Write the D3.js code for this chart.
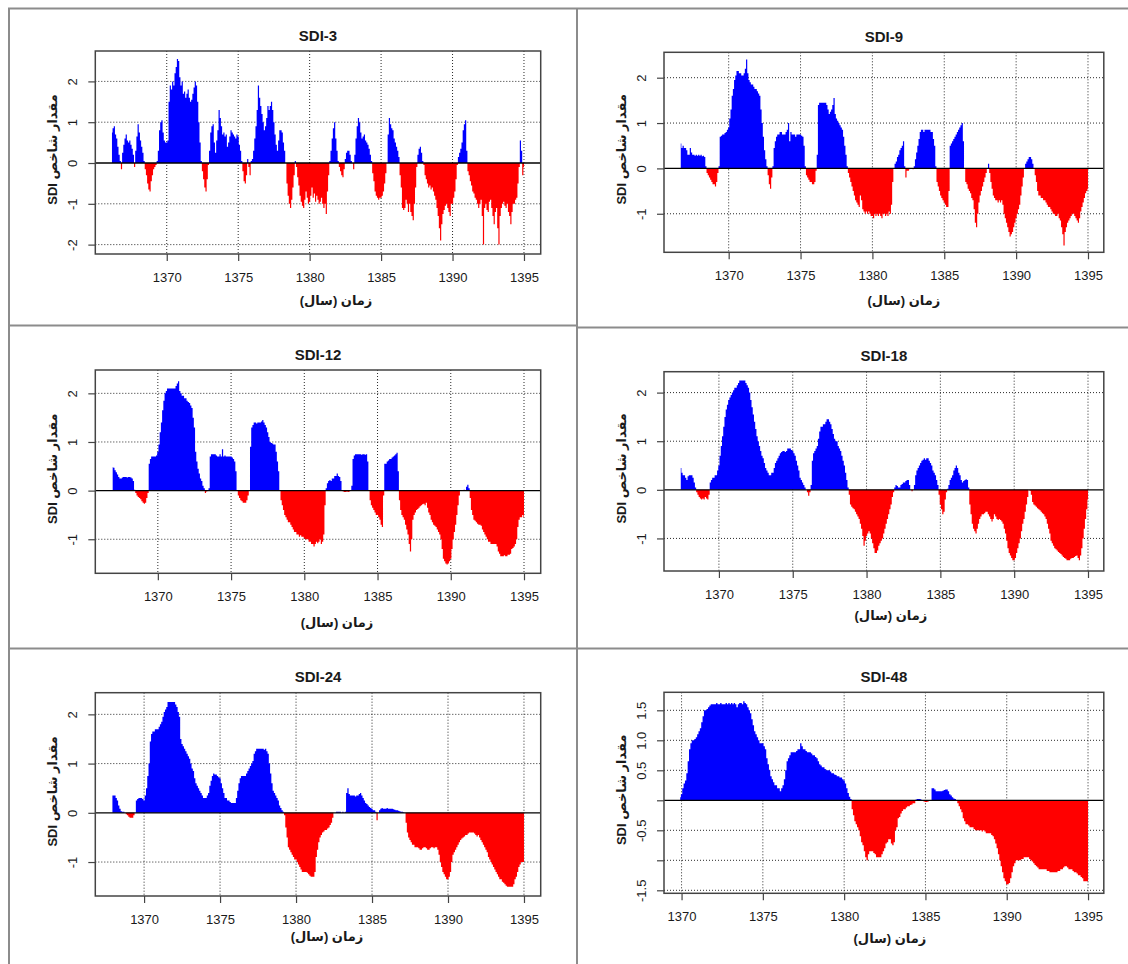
<!DOCTYPE html>
<html>
<head>
<meta charset="utf-8">
<script src="https://cdn.jsdelivr.net/npm/d3@7"></script>
<style>
  body { margin: 0; background: #fff; }
  svg text { font-family: "Liberation Sans", Arial, "DejaVu Sans", sans-serif; fill: #1a1a1a; }
</style>
</head>
<body>
<svg id="chart" width="1128" height="964"></svg>
<script>
// ---- data ----
const titles = ["SDI-3", "SDI-9", "SDI-12", "SDI-18", "SDI-24", "SDI-48"];
const windows = [3, 9, 12, 18, 24, 48];          // months; series k starts at month k-1 of 1366
const xTicks = [1370, 1375, 1380, 1385, 1390, 1395];
const yTicks = [
  [-2, -1, 0, 1, 2],
  [-1, 0, 1, 2],
  [-1, 0, 1, 2],
  [-1, 0, 1, 2],
  [-1, 0, 1, 2],
  [-1.5, -1, -0.5, 0, 0.5, 1, 1.5]
];
const yTickLabels = [
  ["-2", "-1", "0", "1", "2"],
  ["-1", "0", "1", "2"],
  ["-1", "0", "1", "2"],
  ["-1", "0", "1", "2"],
  ["-1", "0", "1", "2"],
  ["-1.5", "", "-0.5", "", "0.5", "1.0", "1.5"]
];
const xLabel = "زمان (سال)";
const yLabel = "مقدار شاخص SDI";

// monthly values, one row per year
const sdi3 = [
  0.75, 0.85, 0.9, 0.7, 0.6, 0.4, 0.2, 0.05, -0.15, 0.25,
  0.45, 0.6, 0.7, 0.55, 0.5, 0.55, 0.45, 0.35, 0.2, -0.1, 0.3, 0.65,
  0.95, 0.75, 0.55, 0.4, 0.25, 0.05, -0.15, -0.3, -0.5, -0.65, -0.7, -0.45,
  -0.3, -0.15, -0.1, -0.05, 0.05, 0.3, 0.8, 1.0, 1.05, 0.75, 0.55, 0.5,
  0.5, 0.55, 1.5, 1.9, 1.8, 2.0, 1.9, 2.2, 2.35, 2.55, 2.5, 2.1,
  1.9, 2.0, 1.7, 1.75, 1.6, 1.7, 1.8, 1.6, 1.5, 1.55, 1.7, 1.85,
  2.0, 1.9, 1.5, 1.0, 0.5, 0.05, -0.2, -0.4, -0.6, -0.7, -0.4, -0.05,
  0.3, 0.75, 0.9, 0.95, 0.5, 0.25, 0.55, 0.8, 1.3, 1.1, 0.9, 0.7,
  0.75, 0.65, 0.7, 0.4, 0.5, 0.65, 0.8, 0.75, 0.7, 0.65, 0.6, 0.7,
  0.65, 0.45, 0.3, 0.05, -0.2, -0.45, -0.5, -0.3, 0.1, -0.1, -0.3, 0.05,
  0.1, 0.3, 0.6, 0.9, 1.3, 1.9, 1.6, 1.4, 1.2, 1.0, 0.8, 0.9,
  1.1, 1.4, 1.3, 1.4, 1.5, 1.3, 1.0, 0.7, 0.45, 0.3, 0.55, 0.8,
  0.8, 0.75, 0.5, 0.3, 0.0, -0.5, -0.8, -1.0, -1.1, -0.9, -0.6, -0.3,
  0.05, -0.1, -0.35, -0.55, -0.8, -0.95, -1.05, -1.1, -0.9, -0.7, -0.85, -1.0,
  -0.95, -0.8, -0.6, -0.85, -0.75, -0.95, -0.8, -0.9, -1.0, -0.95, -0.85, -1.0,
  -1.1, -1.0, -1.25, -0.7, -0.3, 0.05, 0.3, 0.6, 0.85, 1.0, 0.6, 0.3,
  0.05, -0.1, -0.2, -0.3, -0.35, -0.15, 0.1, 0.25, 0.3, 0.3, 0.2, 0.05,
  0.0, -0.15, 0.2, 0.6, 0.9, 1.1, 1.0, 0.75, 0.6, 0.65, 0.7, 0.55,
  0.5, 0.45, 0.35, 0.2, 0.05, -0.25, -0.45, -0.7, -0.8, -0.85, -0.9, -0.85,
  -0.85, -0.8, -0.7, -0.5, -0.25, 0.0, 0.7, 1.1, 0.95, 0.85, 0.8, 0.6,
  0.5, 0.4, 0.3, 0.15, -0.3, -0.6, -1.1, -1.15, -1.1, -0.9, -1.0, -1.2,
  -1.0, -1.2, -1.3, -1.4, -1.0, -0.6, -0.1, 0.2, 0.35, 0.4, 0.25, 0.05,
  -0.05, -0.3, -0.4, -0.5, -0.6, -0.55, -0.65, -0.6, -0.7, -0.8, -0.9, -1.1,
  -1.3, -1.6, -1.9, -1.5, -1.25, -1.15, -1.05, -1.0, -1.1, -1.2, -1.3, -1.0,
  -1.0, -0.85, -0.7, -0.4, -0.05, 0.15, 0.25, 0.35, 0.5, 0.8, 0.95, 1.05,
  0.3, -0.2, -0.3, -0.45, -0.55, -0.7, -0.75, -0.85, -0.9, -1.0, -1.1, -1.0,
  -0.9, -1.3, -2.0, -1.1, -1.0, -1.15, -1.2, -0.95, -0.9, -1.1, -1.3, -1.5,
  -1.2, -1.1, -1.6, -2.0, -1.3, -1.1, -1.0, -0.95, -1.05, -1.1, -1.0, -1.2,
  -1.3, -1.5, -1.2, -1.0, -1.0, -0.9, -0.85, -0.5, -0.1, 0.55, 0.3, -0.3,
  -0.1
];

const sdi9 = [
  0.55, 0.45, 0.5, 0.45,
  0.45, 0.4, 0.3, 0.3, 0.45, 0.35, 0.3, 0.3, 0.28, 0.3, 0.28, 0.3,
  0.28, 0.3, 0.27, 0.28, 0.25, 0.05, -0.1, -0.15, -0.2, -0.25, -0.3, -0.35,
  -0.35, -0.4, -0.3, -0.1, 0.05, 0.7, 0.72, 0.75, 0.75, 0.78, 0.8, 0.85,
  0.9, 1.1, 1.3, 1.6, 1.75, 1.95, 2.05, 2.15, 2.15, 2.1, 2.1, 2.05,
  2.05, 2.1, 2.2, 2.4, 2.1, 1.95, 1.9, 1.85, 1.85, 1.8, 1.75, 1.75,
  1.7, 1.65, 1.6, 1.3, 1.0, 0.7, 0.4, 0.2, 0.05, -0.15, -0.35, -0.45,
  -0.2, 0.05, 0.45, 0.6, 0.7, 0.75, 0.75, 0.8, 0.8, 0.75, 0.75, 0.75,
  0.8, 0.85, 1.0, 0.6, 0.8, 0.75, 0.75, 0.75, 0.7, 0.75, 0.75, 0.75,
  0.75, 0.72, 0.7, 0.5, 0.05, -0.15, -0.2, -0.25, -0.3, -0.3, -0.35, -0.35,
  -0.3, -0.05, 0.3, 1.4, 1.45, 1.45, 1.45, 1.45, 1.45, 1.45, 1.4, 1.3,
  1.2, 1.25, 1.3, 1.4, 1.55, 1.2, 1.1, 1.05, 1.0, 0.95, 0.9, 0.85,
  0.7, 0.5, 0.3, 0.05, -0.1, -0.2, -0.3, -0.4, -0.5, -0.6, -0.7, -0.75,
  -0.8, -0.85, -0.6, -0.7, -0.9, -0.95, -1.0, -0.95, -1.0, -0.95, -1.0, -1.05,
  -1.05, -1.1, -1.0, -1.05, -1.0, -1.05, -1.0, -1.05, -1.1, -1.0, -1.0, -1.05,
  -1.0, -1.05, -0.95, -1.0, -0.8, -0.3, 0.0, 0.1, 0.15, 0.25, 0.3, 0.4,
  0.45, 0.5, 0.6, 0.05, -0.2, -0.05, -0.05, -0.02, 0.0, 0.0, -0.02, 0.05,
  0.2, 0.35, 0.5, 0.65, 0.8, 0.85, 0.85, 0.8, 0.85, 0.85, 0.85, 0.85,
  0.85, 0.8, 0.8, 0.65, 0.5, 0.05, -0.3, -0.4, -0.5, -0.6, -0.65, -0.7,
  -0.75, -0.8, -0.85, -0.85, -0.5, 0.5, 0.55, 0.6, 0.65, 0.7, 0.75, 0.8,
  0.85, 0.9, 0.95, 1.0, 0.6, 0.0, -0.3, -0.35, -0.45, -0.5, -0.55, -0.65,
  -0.7, -0.9, -1.2, -1.3, -1.0, -0.75, -0.6, -0.5, -0.4, -0.3, -0.2, -0.1,
  0.0, 0.1, -0.1, -0.3, -0.45, -0.6, -0.65, -0.7, -0.7, -0.75, -0.7, -0.75,
  -0.7, -0.8, -1.0, -1.1, -1.2, -1.3, -1.4, -1.5, -1.45, -1.4, -1.3, -1.2,
  -1.1, -1.0, -0.9, -0.8, -0.6, -0.4, -0.2, 0.0, 0.1, 0.15, 0.2, 0.25,
  0.25, 0.2, 0.1, 0.0, -0.15, -0.3, -0.5, -0.6, -0.6, -0.65, -0.65, -0.7,
  -0.7, -0.75, -0.8, -0.85, -0.85, -0.9, -0.95, -1.0, -1.0, -1.05, -1.05, -1.0,
  -1.1, -1.15, -1.3, -1.45, -1.7, -1.4, -1.3, -1.2, -1.15, -1.1, -1.05, -1.0,
  -1.0, -1.05, -1.1, -1.15, -1.2, -1.1, -0.95, -0.85, -0.75, -0.65, -0.55, -0.5,
  -0.45
];

const sdi12 = [
  0.48,
  0.47, 0.42, 0.38, 0.33, 0.28, 0.25, 0.25, 0.27, 0.28, 0.28, 0.28, 0.27,
  0.28, 0.28, 0.27, 0.25, 0.2, 0.02, -0.05, -0.1, -0.13, -0.15, -0.18, -0.22,
  -0.25, -0.27, -0.25, -0.15, -0.05, 0.55, 0.65, 0.7, 0.7, 0.7, 0.7, 0.72,
  0.8, 0.95, 1.2, 1.4, 1.65, 1.85, 2.0, 2.05, 2.1, 2.1, 2.1, 2.1,
  2.1, 2.1, 2.1, 2.15, 2.2, 2.25, 2.05, 2.0, 1.95, 1.95, 1.9, 1.9,
  1.85, 1.82, 1.8, 1.75, 1.7, 1.5, 1.3, 0.8, 0.6, 0.45, 0.35, 0.25,
  0.2, 0.1, 0.05, -0.05, -0.02, 0.0, 0.05, 0.7, 0.75, 0.75, 0.75, 0.75,
  0.72, 0.7, 0.7, 0.75, 0.7, 0.85, 0.7, 0.72, 0.7, 0.7, 0.7, 0.7,
  0.7, 0.68, 0.65, 0.6, 0.4, 0.0, -0.1, -0.15, -0.2, -0.22, -0.25, -0.25,
  -0.25, -0.2, -0.1, 0.0, 0.9, 1.3, 1.35, 1.4, 1.4, 1.38, 1.4, 1.4,
  1.4, 1.42, 1.45, 1.4, 1.35, 1.3, 1.2, 1.1, 1.0, 0.98, 0.97, 0.95,
  0.95, 0.8, 0.6, 0.4, 0.0, -0.2, -0.3, -0.4, -0.5, -0.55, -0.6, -0.65,
  -0.65, -0.7, -0.75, -0.8, -0.85, -0.85, -0.9, -0.9, -0.95, -0.92, -0.95, -0.95,
  -0.98, -1.0, -1.0, -1.0, -1.05, -1.05, -1.1, -1.1, -1.15, -1.1, -1.05, -1.08,
  -1.05, -1.0, -1.1, -1.05, -0.9, -0.3, 0.05, 0.15, 0.2, 0.22, 0.2, 0.25,
  0.25, 0.3, 0.3, 0.35, 0.3, 0.28, 0.2, 0.0, -0.02, -0.03, -0.03, -0.02,
  -0.03, -0.02, 0.0, 0.1, 0.65, 0.72, 0.75, 0.75, 0.75, 0.75, 0.75, 0.74,
  0.75, 0.75, 0.74, 0.75, 0.6, 0.0, -0.2, -0.3, -0.35, -0.4, -0.45, -0.5,
  -0.5, -0.55, -0.6, -0.7, -0.75, -0.1, 0.55, 0.55, 0.6, 0.62, 0.65, 0.65,
  0.68, 0.7, 0.72, 0.75, 0.78, 0.4, -0.2, -0.4, -0.5, -0.55, -0.6, -0.7,
  -0.8, -0.9, -1.1, -1.25, -1.0, -0.6, -0.5, -0.45, -0.4, -0.38, -0.35, -0.32,
  -0.3, -0.28, -0.27, -0.3, -0.25, -0.35, -0.45, -0.5, -0.6, -0.65, -0.7, -0.72,
  -0.75, -0.8, -0.85, -0.9, -1.0, -1.2, -1.4, -1.45, -1.5, -1.52, -1.5, -1.45,
  -1.4, -1.2, -1.0, -0.85, -0.7, -0.5, -0.3, -0.1, 0.0, 0.0, 0.0, 0.02,
  0.0, 0.08, 0.12, 0.05, -0.15, -0.4, -0.5, -0.6, -0.62, -0.65, -0.68, -0.7,
  -0.7, -0.72, -0.8, -0.85, -0.9, -0.95, -1.0, -1.05, -1.05, -1.1, -1.1, -1.1,
  -1.1, -1.1, -1.15, -1.25, -1.3, -1.35, -1.35, -1.35, -1.33, -1.35, -1.35, -1.32,
  -1.32, -1.3, -1.2, -1.18, -1.15, -1.1, -1.0, -0.75, -0.6, -0.55, -0.55, -0.5,
  -0.55
];

const sdi18 = [
  0.45, 0.35, 0.3, 0.3, 0.25, 0.2, 0.28,
  0.3, 0.3, 0.3, 0.25, 0.15, 0.05, -0.05, -0.1, -0.15, -0.18, -0.2, -0.18,
  -0.2, -0.15, -0.18, -0.2, -0.1, 0.15, 0.2, 0.25, 0.25, 0.3, 0.3, 0.4,
  0.5, 0.7, 0.9, 1.1, 1.3, 1.5, 1.65, 1.75, 1.85, 1.9, 1.95, 2.0,
  2.05, 2.1, 2.1, 2.15, 2.2, 2.25, 2.25, 2.25, 2.25, 2.25, 2.2, 2.15,
  2.1, 2.0, 1.85, 1.7, 1.55, 1.4, 1.25, 1.1, 1.0, 0.9, 0.8, 0.7,
  0.65, 0.55, 0.45, 0.4, 0.35, 0.3, 0.3, 0.35, 0.35, 0.45, 0.55, 0.6,
  0.65, 0.7, 0.75, 0.78, 0.8, 0.8, 0.78, 0.8, 0.85, 0.85, 0.85, 0.82,
  0.8, 0.75, 0.7, 0.6, 0.5, 0.4, 0.25, 0.2, 0.15, 0.1, 0.05, 0.0,
  -0.05, -0.12, -0.05, 0.1, 0.6, 0.75, 0.8, 0.85, 0.9, 1.05, 1.2, 1.3,
  1.3, 1.35, 1.35, 1.4, 1.45, 1.45, 1.4, 1.35, 1.25, 1.15, 1.05, 1.0,
  1.0, 0.9, 0.85, 0.8, 0.7, 0.6, 0.5, 0.35, 0.2, 0.05, -0.1, -0.3,
  -0.35, -0.38, -0.4, -0.45, -0.5, -0.55, -0.6, -0.7, -0.8, -0.95, -1.15, -1.05,
  -0.95, -0.9, -0.85, -0.9, -1.0, -1.1, -1.2, -1.3, -1.3, -1.25, -1.15, -1.1,
  -1.05, -1.0, -0.9, -0.8, -0.7, -0.6, -0.5, -0.4, -0.3, -0.15, -0.05, 0.05,
  0.1, 0.08, 0.05, 0.05, 0.1, 0.12, 0.15, 0.15, 0.18, 0.2, 0.2, 0.1,
  0.0, -0.03, 0.0, 0.1, 0.3, 0.4, 0.45, 0.5, 0.55, 0.6, 0.62, 0.65,
  0.62, 0.65, 0.65, 0.6, 0.55, 0.5, 0.4, 0.35, 0.3, 0.2, 0.1, -0.1,
  -0.3, -0.4, -0.5, -0.45, -0.2, -0.05, 0.02, 0.1, 0.2, 0.25, 0.3, 0.4,
  0.45, 0.5, 0.45, 0.35, 0.3, 0.2, 0.15, 0.18, 0.2, 0.22, 0.2, 0.05,
  -0.3, -0.5, -0.7, -0.8, -0.85, -0.9, -0.8, -0.7, -0.6, -0.55, -0.5, -0.5,
  -0.48, -0.45, -0.45, -0.5, -0.55, -0.6, -0.65, -0.6, -0.5, -0.55, -0.6, -0.62,
  -0.6, -0.62, -0.65, -0.7, -0.8, -0.9, -1.05, -1.2, -1.3, -1.35, -1.4, -1.45,
  -1.45, -1.4, -1.3, -1.2, -1.1, -1.0, -0.85, -0.7, -0.6, -0.45, -0.3, -0.15,
  0.0, -0.02, -0.1, -0.25, -0.3, -0.32, -0.35, -0.38, -0.4, -0.42, -0.45, -0.48,
  -0.5, -0.55, -0.6, -0.7, -0.8, -0.9, -1.05, -1.1, -1.15, -1.2, -1.22, -1.25,
  -1.28, -1.3, -1.32, -1.35, -1.38, -1.4, -1.42, -1.45, -1.45, -1.45, -1.42, -1.4,
  -1.4, -1.38, -1.36, -1.35, -1.4, -1.45, -1.35, -1.2, -1.0, -0.8, -0.6, -0.4,
  -0.2
];

const sdi24 = [
  0.35,
  0.35, 0.35, 0.3, 0.25, 0.15, 0.08, 0.03, 0.02, 0.02, 0.0, -0.03, -0.05,
  -0.08, -0.1, -0.1, -0.1, -0.05, 0.0, 0.25, 0.28, 0.3, 0.3, 0.3, 0.28,
  0.25, 0.35, 0.5, 0.75, 1.0, 1.45, 1.6, 1.65, 1.65, 1.7, 1.7, 1.7,
  1.75, 1.8, 1.85, 1.95, 2.05, 2.1, 2.15, 2.25, 2.25, 2.25, 2.25, 2.25,
  2.25, 2.2, 2.15, 2.05, 1.95, 1.5, 1.4, 1.35, 1.3, 1.25, 1.2, 1.15,
  1.1, 1.0, 0.9, 0.85, 0.7, 0.6, 0.55, 0.5, 0.45, 0.4, 0.35, 0.3,
  0.3, 0.3, 0.35, 0.4, 0.55, 0.65, 0.75, 0.8, 0.78, 0.78, 0.75, 0.72,
  0.7, 0.6, 0.5, 0.4, 0.3, 0.3, 0.25, 0.25, 0.22, 0.2, 0.2, 0.2,
  0.2, 0.3, 0.45, 0.6, 0.7, 0.75, 0.75, 0.75, 0.75, 0.8, 0.85, 0.9,
  0.95, 1.0, 1.05, 1.2, 1.25, 1.3, 1.3, 1.3, 1.3, 1.3, 1.3, 1.28,
  1.3, 1.25, 1.2, 1.0, 0.8, 0.6, 0.45, 0.4, 0.35, 0.3, 0.25, 0.15,
  0.1, 0.05, 0.02, -0.05, -0.3, -0.5, -0.7, -0.75, -0.8, -0.85, -0.9, -0.95,
  -0.95, -1.0, -1.05, -1.1, -1.15, -1.2, -1.2, -1.2, -1.2, -1.22, -1.25, -1.28,
  -1.3, -1.3, -1.3, -1.2, -0.9, -0.75, -0.6, -0.5, -0.45, -0.4, -0.38, -0.35,
  -0.35, -0.32, -0.3, -0.25, -0.2, -0.1, 0.0, 0.0, 0.02, 0.02, 0.02, 0.02,
  0.0, 0.02, 0.0, 0.02, 0.4, 0.5, 0.38, 0.35, 0.35, 0.35, 0.35, 0.33,
  0.35, 0.35, 0.38, 0.4, 0.35, 0.3, 0.25, 0.2, 0.18, 0.15, 0.12, 0.1,
  0.08, 0.05, 0.05, 0.02, -0.15, 0.0, 0.05, 0.08, 0.1, 0.08, 0.08, 0.08,
  0.1, 0.08, 0.08, 0.08, 0.08, 0.07, 0.06, 0.05, 0.05, 0.04, 0.03, 0.02,
  0.02, 0.01, 0.0, -0.2, -0.4, -0.5, -0.55, -0.6, -0.65, -0.65, -0.7, -0.7,
  -0.7, -0.72, -0.75, -0.75, -0.72, -0.7, -0.7, -0.72, -0.75, -0.75, -0.72, -0.7,
  -0.7, -0.72, -0.7, -0.7, -0.75, -0.85, -1.0, -1.1, -1.2, -1.25, -1.3, -1.35,
  -1.35, -1.3, -1.2, -1.0, -0.85, -0.8, -0.75, -0.7, -0.65, -0.6, -0.55, -0.52,
  -0.5, -0.48, -0.45, -0.45, -0.42, -0.4, -0.4, -0.4, -0.4, -0.42, -0.45, -0.48,
  -0.45, -0.5, -0.55, -0.6, -0.65, -0.7, -0.75, -0.8, -0.9, -0.95, -1.0, -1.05,
  -1.1, -1.15, -1.2, -1.25, -1.3, -1.35, -1.35, -1.4, -1.42, -1.45, -1.48, -1.5,
  -1.5, -1.5, -1.5, -1.5, -1.45, -1.35, -1.3, -1.2, -1.1, -1.05, -1.0, -1.0,
  -1.0
];

const sdi48 = [
  0.05,
  0.1, 0.2, 0.28, 0.33, 0.45, 0.65, 0.85, 0.95, 1.0, 1.0, 1.02, 1.05,
  1.1, 1.15, 1.2, 1.3, 1.4, 1.5, 1.5, 1.52, 1.55, 1.58, 1.6, 1.6,
  1.6, 1.6, 1.62, 1.6, 1.6, 1.62, 1.6, 1.6, 1.6, 1.62, 1.6, 1.62,
  1.6, 1.62, 1.6, 1.62, 1.6, 1.55, 1.6, 1.62, 1.62, 1.6, 1.65, 1.62,
  1.6, 1.55, 1.5, 1.45, 1.35, 1.25, 1.15, 1.1, 1.05, 1.0, 0.95, 0.95,
  0.95, 0.9, 0.85, 0.7, 0.6, 0.5, 0.4, 0.35, 0.3, 0.25, 0.25, 0.2,
  0.2, 0.15, 0.2, 0.25, 0.35, 0.5, 0.65, 0.7, 0.75, 0.8, 0.8, 0.8,
  0.8, 0.82, 0.85, 0.85, 0.95, 0.9, 0.85, 0.85, 0.82, 0.8, 0.8, 0.8,
  0.78, 0.75, 0.75, 0.72, 0.7, 0.65, 0.6, 0.58, 0.55, 0.55, 0.52, 0.5,
  0.5, 0.5, 0.48, 0.45, 0.45, 0.43, 0.42, 0.4, 0.4, 0.38, 0.38, 0.35,
  0.33, 0.28, 0.2, 0.12, 0.06, 0.02, -0.15, -0.25, -0.35, -0.4, -0.45, -0.5,
  -0.6, -0.7, -0.75, -0.85, -0.95, -1.0, -0.9, -0.85, -0.85, -0.85, -0.88, -0.9,
  -0.95, -0.95, -0.95, -0.95, -0.9, -0.85, -0.8, -0.72, -0.7, -0.65, -0.65, -0.72,
  -0.75, -0.7, -0.5, -0.45, -0.3, -0.28, -0.22, -0.18, -0.15, -0.15, -0.12, -0.1,
  -0.1, -0.08, -0.07, -0.05, -0.05, 0.01, 0.02, 0.02, 0.02, 0.01, 0.0, -0.02,
  -0.03, -0.03, -0.02, 0.0, 0.0, 0.2, 0.2, 0.18, 0.15, 0.15, 0.15, 0.15,
  0.15, 0.16, 0.17, 0.18, 0.18, 0.15, 0.1, 0.08, 0.05, 0.03, 0.02, 0.0,
  -0.05, -0.1, -0.15, -0.2, -0.3, -0.35, -0.4, -0.4, -0.42, -0.45, -0.45, -0.45,
  -0.48, -0.5, -0.5, -0.5, -0.5, -0.5, -0.52, -0.5, -0.52, -0.55, -0.55, -0.55,
  -0.55, -0.58, -0.6, -0.65, -0.72, -0.8, -0.9, -1.0, -1.1, -1.2, -1.3, -1.35,
  -1.4, -1.4, -1.38, -1.3, -1.2, -1.1, -1.05, -1.0, -1.0, -1.0, -1.0, -0.98,
  -0.98, -0.95, -0.95, -0.95, -0.95, -0.98, -1.0, -1.02, -1.05, -1.08, -1.1, -1.12,
  -1.15, -1.15, -1.15, -1.15, -1.15, -1.15, -1.18, -1.18, -1.2, -1.2, -1.2, -1.2,
  -1.2, -1.2, -1.18, -1.18, -1.15, -1.15, -1.12, -1.1, -1.1, -1.12, -1.15, -1.15,
  -1.15, -1.18, -1.2, -1.2, -1.22, -1.25, -1.25, -1.28, -1.3, -1.35, -1.35, -1.35,
  -1.35
];

const series = [sdi3, sdi9, sdi12, sdi18, sdi24, sdi48];

// ---- layout (screen-shot collage, each panel slightly different) ----
const panels = [
  { left: 95.3, right: 540.7, top: 51,    bottom: 254,   xDom: [1365.0, 1396.17], yDom: [-2.23, 2.745], xlabY: 305, xlabDx: 18 },
  { left: 664,  right: 1103.8, top: 52.3, bottom: 252.3, xDom: [1365.5, 1396.1],  yDom: [-1.85, 2.56],  xlabY: 305, xlabDx: 20 },
  { left: 95.3, right: 540.7, top: 370,   bottom: 573.3, xDom: [1365.73, 1396.14], yDom: [-1.7, 2.48],  xlabY: 627, xlabDx: 19 },
  { left: 664,  right: 1103.8, top: 371.7, bottom: 571,  xDom: [1366.28, 1396.07], yDom: [-1.67, 2.43], xlabY: 620, xlabDx: 7 },
  { left: 95.3, right: 540.7, top: 692.7, bottom: 896,   xDom: [1366.79, 1396.1],  yDom: [-1.69, 2.44], xlabY: 941, xlabDx: 9 },
  { left: 664,  right: 1103.8, top: 692.3, bottom: 893.3, xDom: [1368.92, 1395.97], yDom: [-1.55, 1.8], xlabY: 943, xlabDx: 6 }
];

const svg = d3.select("#chart");

// frame lines of the collage
const frames = [
  [8, 8.5, 1128, 8.5],
  [9, 8, 9, 964],
  [577, 8, 577, 964],
  [8, 325.5, 577, 325.5],
  [577, 327.5, 1128, 327.5],
  [8, 648.5, 1128, 648.5]
];
svg.append("g")
  .selectAll("line")
  .data(frames)
  .join("line")
  .attr("x1", d => d[0]).attr("y1", d => d[1])
  .attr("x2", d => d[2]).attr("y2", d => d[3])
  .attr("stroke", "#8c8c8c")
  .attr("stroke-width", 2);

panels.forEach((p, i) => {
  const values = series[i];
  const start = 1366 + (windows[i] - 1) / 12;
  const data = values.map((v, j) => ({ t: start + j / 12, v: v }));

  const x = d3.scaleLinear().domain(p.xDom).range([p.left, p.right]);
  const y = d3.scaleLinear().domain(p.yDom).range([p.bottom, p.top]);
  const g = svg.append("g");

  // dotted grid
  const grid = g.append("g")
    .attr("stroke", "#2a2a2a")
    .attr("stroke-width", 1)
    .attr("stroke-dasharray", "1,2");
  grid.selectAll("line.v")
    .data(xTicks)
    .join("line").attr("class", "v")
    .attr("x1", d => x(d)).attr("x2", d => x(d))
    .attr("y1", p.top).attr("y2", p.bottom);
  grid.selectAll("line.h")
    .data(yTicks[i].filter(d => d !== 0))
    .join("line").attr("class", "h")
    .attr("x1", p.left).attr("x2", p.right)
    .attr("y1", d => y(d)).attr("y2", d => y(d));

  // monthly values as stepped fills, blue above zero, red below
  const pos = d3.area().curve(d3.curveStep)
    .x(d => x(d.t)).y0(y(0)).y1(d => y(Math.max(d.v, 0)));
  const neg = d3.area().curve(d3.curveStep)
    .x(d => x(d.t)).y0(y(0)).y1(d => y(Math.min(d.v, 0)));
  g.append("path").datum(data).attr("d", pos).attr("fill", "#0000ff");
  g.append("path").datum(data).attr("d", neg).attr("fill", "#ff0000");

  // zero line
  g.append("line")
    .attr("x1", p.left).attr("x2", p.right)
    .attr("y1", y(0)).attr("y2", y(0))
    .attr("stroke", "#000")
    .attr("stroke-width", 1.3);

  // box
  g.append("rect")
    .attr("x", p.left).attr("y", p.top)
    .attr("width", p.right - p.left).attr("height", p.bottom - p.top)
    .attr("fill", "none")
    .attr("stroke", "#444")
    .attr("stroke-width", 1.5);

  // x axis
  const xa = g.append("g")
    .attr("transform", "translate(0," + p.bottom + ")")
    .call(d3.axisBottom(x).tickValues(xTicks).tickSize(7).tickFormat(d3.format("d")));
  xa.select(".domain").remove();
  xa.selectAll("line").attr("stroke", "#444").attr("stroke-width", 1.2);
  xa.selectAll("text")
    .attr("y", 28).attr("dy", null)
    .style("font-size", "13px")
    .style("font-family", "'Liberation Sans', Arial, sans-serif")
    .attr("fill", "#1a1a1a");

  // y axis, labels parallel to the axis
  const labels = yTickLabels[i];
  const ya = g.append("g")
    .attr("transform", "translate(" + p.left + ",0)")
    .call(d3.axisLeft(y).tickValues(yTicks[i]).tickSize(7).tickFormat((d, k) => labels[k]));
  ya.select(".domain").remove();
  ya.selectAll("line").attr("stroke", "#444").attr("stroke-width", 1.2);
  ya.selectAll("text")
    .attr("x", 0).attr("y", -18).attr("dy", null)
    .attr("text-anchor", "middle")
    .attr("transform", "rotate(-90)")
    .style("font-size", "13px")
    .style("font-family", "'Liberation Sans', Arial, sans-serif")
    .attr("fill", "#1a1a1a");

  // title
  g.append("text")
    .attr("x", (p.left + p.right) / 2)
    .attr("y", p.top - 10.5)
    .attr("text-anchor", "middle")
    .style("font-size", "15px")
    .style("font-weight", "bold")
    .text(titles[i]);

  // x label
  g.append("text")
    .attr("x", (p.left + p.right) / 2 + p.xlabDx)
    .attr("y", p.xlabY)
    .attr("text-anchor", "middle")
    .attr("direction", "rtl")
    .style("font-size", "13px")
    .style("font-weight", "bold")
    .text(xLabel);

  // y label
  g.append("text")
    .attr("transform", "translate(" + (p.left - 38.5) + "," + ((p.top + p.bottom) / 2 - 3) + ") rotate(-90)")
    .attr("text-anchor", "middle")
    .attr("direction", "rtl")
    .style("font-size", "13px")
    .style("font-weight", "bold")
    .text(yLabel);
});
</script>
</body>
</html>
